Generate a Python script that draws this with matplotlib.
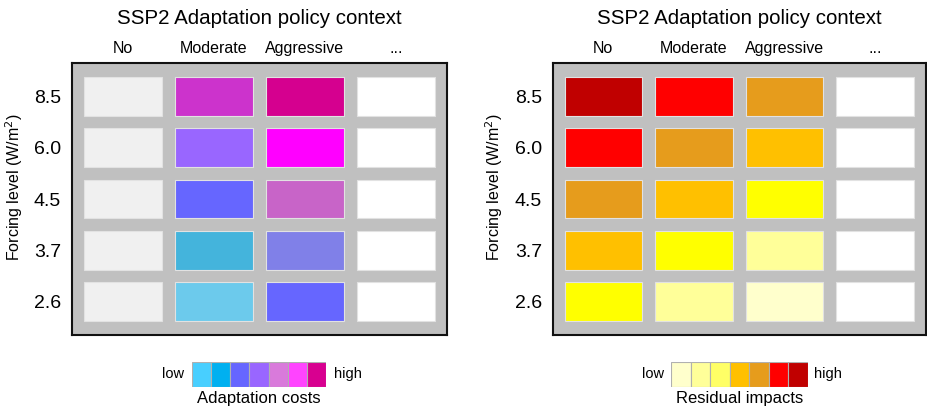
import matplotlib
matplotlib.use("Agg")
import matplotlib.pyplot as plt

plt.rcParams['font.family'] = ['Liberation Sans', 'DejaVu Sans']

title = "SSP2 Adaptation policy context"
columns = ["No", "Moderate", "Aggressive", "..."]
forcing = ["8.5", "6.0", "4.5", "3.7", "2.6"]  # top to bottom

# cell colours per column, rows top (8.5) to bottom (2.6)
cost_no = ["#f0f0f0"] * 5
cost_moderate = ["#cc33cc", "#9966ff", "#6666ff", "#44b4dc", "#6ccaec"]
cost_aggressive = ["#d5008f", "#ff00ff", "#c864c8", "#8080e8", "#6666ff"]
cost_other = ["#ffffff"] * 5

imp_no = ["#c00000", "#ff0000", "#e69c1c", "#ffc000", "#ffff00"]
imp_moderate = ["#ff0000", "#e69c1c", "#ffc000", "#ffff00", "#ffff99"]
imp_aggressive = ["#e69c1c", "#ffc000", "#ffff00", "#ffff99", "#ffffcc"]
imp_other = ["#ffffff"] * 5

cost_palette = ["#48cfff", "#00b0f0", "#6666ff", "#9966ff", "#d97adb", "#ff44ff", "#d80090"]
imp_palette = ["#ffffcc", "#ffff99", "#ffff66", "#ffc000", "#e69c1c", "#ff0000", "#c00000"]

W, H = 927, 409
fig = plt.figure(figsize=(W / 100, H / 100), dpi=100)


def px(l, t, w, h):
    return [l / W, 1 - (t + h) / H, w / W, h / H]


def panel(rect, cols, legend_rect, palette, legend_title, low_x, high_x, title_x, ylab_x):
    ax = fig.add_axes(px(*rect))
    ax.set_facecolor("#c0c0c0")
    nrow = len(forcing)
    for ci, colvals in enumerate(cols):
        ys = [nrow - 1 - ri for ri in range(nrow)]
        ax.bar([ci] * nrow, [0.76] * nrow, bottom=[y - 0.38 for y in ys], width=0.855,
               color=colvals, edgecolor="#e2e2e2", linewidth=0.8)
    ax.set_xlim(-0.555, len(cols) - 1 + 0.56)
    ax.set_ylim(-0.654, nrow - 1 + 0.654)
    ax.set_yticks(range(nrow))
    ax.set_yticklabels(forcing[::-1], fontsize=14)
    ax.set_xticks(range(len(cols)))
    ax.set_xticklabels(columns, fontsize=11.5)
    ax.xaxis.tick_top()
    ax.tick_params(axis="both", length=0)
    ax.tick_params(axis="x", pad=5)
    ax.tick_params(axis="y", pad=8)
    for s in ax.spines.values():
        s.set_linewidth(1.5)
        s.set_color("#111111")
    fig.text(ylab_x / W, 1 - 187 / H, "Forcing level (W/m$^2$)", fontsize=11.5,
             rotation=90, ha="center", va="center")
    fig.text(title_x / W, 1 - 18 / H, title, fontsize=14.8, ha="center", va="center")

    lax = fig.add_axes(px(*legend_rect))
    lax.bar(range(len(palette)), [1] * len(palette), width=1, color=palette,
            edgecolor="#b0b0b0", linewidth=0.8)
    lax.set_xlim(-0.5, len(palette) - 0.5)
    lax.set_ylim(0, 1)
    lax.axis("off")
    lt = 1 - 374 / H
    fig.text(low_x / W, lt, "low", fontsize=10.5, ha="center", va="center")
    fig.text(high_x / W, lt, "high", fontsize=10.5, ha="center", va="center")
    cx = (legend_rect[0] + legend_rect[2] / 2) / W
    fig.text(cx, 1 - 399 / H, legend_title, fontsize=12, ha="center", va="center")
    return ax


panel((72, 63, 375, 272), [cost_no, cost_moderate, cost_aggressive, cost_other],
      (192, 362, 134, 25), cost_palette, "Adaptation costs", 173, 348, 259, 14)
panel((553, 63, 373, 272), [imp_no, imp_moderate, imp_aggressive, imp_other],
      (671, 362, 137, 25), imp_palette, "Residual impacts", 653, 828, 739, 494)

fig.savefig("out.png", dpi=100)
